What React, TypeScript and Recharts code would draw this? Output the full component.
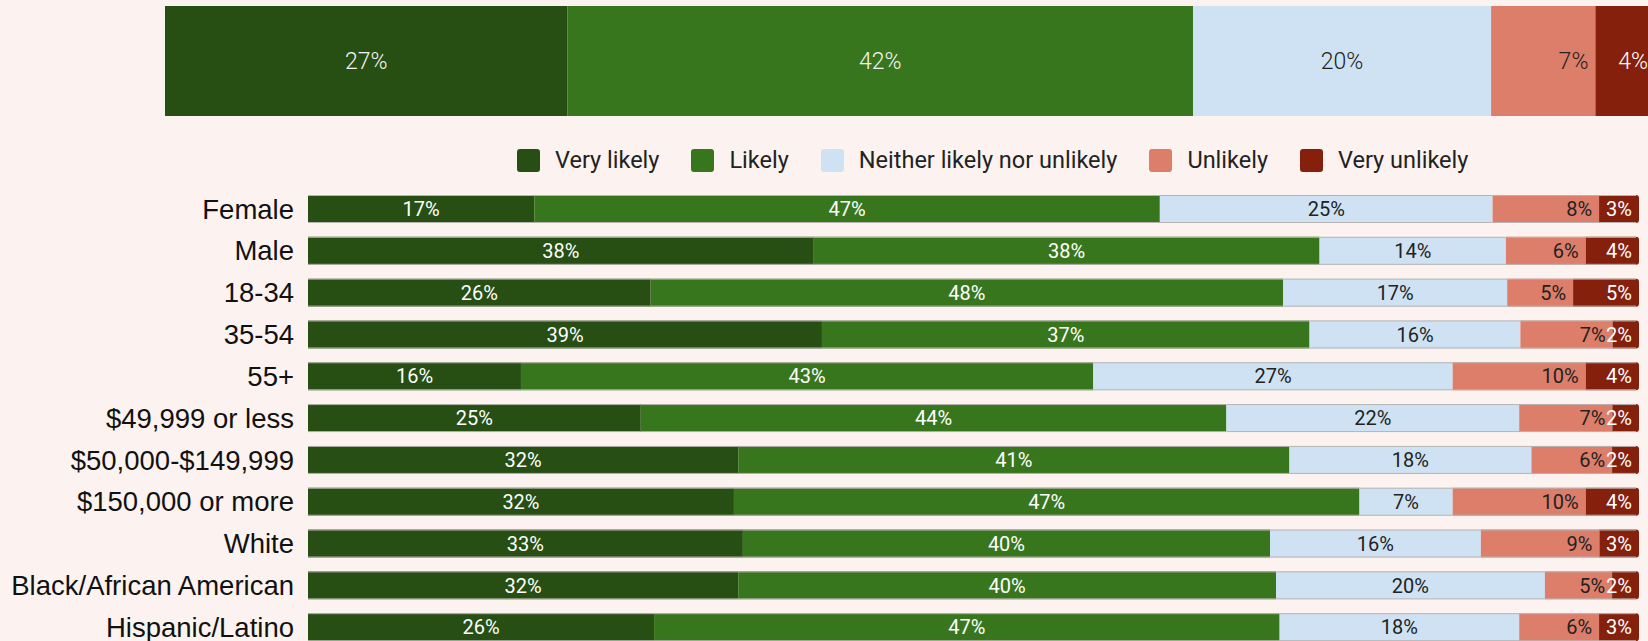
import { BarChart, Bar, XAxis, YAxis, Legend, LabelList, Rectangle } from "recharts";

const BG = "#fcf3f0";

const seriesKeys = ["veryLikely", "likely", "neither", "unlikely", "veryUnlikely"];
const seriesNames = ["Very likely", "Likely", "Neither likely nor unlikely", "Unlikely", "Very unlikely"];
const seriesColors = ["#274e13", "#38761d", "#cfe2f3", "#dd7e6b", "#85200c"];
const labelColors = ["#ffffff", "#ffffff", "#222222", "#222222", "#ffffff"];
const labelAlign = ["center", "center", "center", "right", "right"];

const overallValues = [27, 42, 20, 7, 4];
const overallLabelColors = ["#f4f4f4", "#f4f4f4", "#222222", "#222222", "#ffffff"];

const categories = [
  "Female",
  "Male",
  "18-34",
  "35-54",
  "55+",
  "$49,999 or less",
  "$50,000-$149,999",
  "$150,000 or more",
  "White",
  "Black/African American",
  "Hispanic/Latino",
];
const veryLikely = [17, 38, 26, 39, 16, 25, 32, 32, 33, 32, 26];
const likely = [47, 38, 48, 37, 43, 44, 41, 47, 40, 40, 47];
const neither = [25, 14, 17, 16, 27, 22, 18, 7, 16, 20, 18];
const unlikely = [8, 6, 5, 7, 10, 7, 6, 10, 9, 5, 6];
const veryUnlikely = [3, 4, 5, 2, 4, 2, 2, 4, 3, 2, 3];

const seriesValues = [veryLikely, likely, neither, unlikely, veryUnlikely];

const groupData = categories.map((name, i) => {
  const row: Record<string, string | number> = { name };
  seriesKeys.forEach((key, s) => {
    row[key] = seriesValues[s][i];
  });
  return row;
});

const overallRow: Record<string, string | number> = { name: "Overall" };
seriesKeys.forEach((key, s) => {
  overallRow[key] = overallValues[s];
});
const overallData = [overallRow];

function makeLabel(values: number[], color: string, align: string, fontSize: number, fontWeight: number) {
  return (props: any) => {
    const x = Number(props.x);
    const y = Number(props.y);
    const width = Number(props.width);
    const height = Number(props.height);
    const value = values[props.index];
    if (value == null) return null;
    const tx = align === "center" ? x + width / 2 : x + width - 7;
    return (
      <text
        x={tx}
        y={y + height / 2}
        dy="0.36em"
        textAnchor={align === "center" ? "middle" : "end"}
        fill={color}
        fontSize={fontSize}
        fontWeight={fontWeight}
        fontFamily="Roboto, sans-serif"
      >
        {value}%
      </text>
    );
  };
}

function outlinedShape(rounded: boolean) {
  return (props: any) => {
    const { x, y, width, height, fill } = props;
    return (
      <g>
        <Rectangle
          x={x}
          y={y}
          width={width}
          height={height}
          fill={fill}
          radius={rounded ? [0, 3, 3, 0] : 0}
        />
        <line x1={x} x2={x + width - (rounded ? 3 : 0)} y1={y + 0.5} y2={y + 0.5} stroke="#b9b4b2" strokeWidth={1} />
        <line x1={x} x2={x + width - (rounded ? 3 : 0)} y1={y + height - 0.5} y2={y + height - 0.5} stroke="#b9b4b2" strokeWidth={1} />
      </g>
    );
  };
}

function LegendContent() {
  return (
    <div style={{ display: "flex", alignItems: "center", fontFamily: "Roboto, sans-serif", fontSize: 23.5, color: "#222" }}>
      {seriesNames.map((name, i) => (
        <div key={name} style={{ display: "flex", alignItems: "center", marginRight: i < seriesNames.length - 1 ? 32 : 0 }}>
          <span
            style={{
              display: "inline-block",
              width: 23,
              height: 23,
              background: seriesColors[i],
              borderRadius: 3,
              marginRight: 15,
            }}
          />
          <span style={{ whiteSpace: "nowrap" }}>{name}</span>
        </div>
      ))}
    </div>
  );
}

export default function App() {
  return (
    <div style={{ width: 1648, height: 641, position: "relative", overflow: "hidden", background: BG }}>
      <style>{`body{margin:0;}`}</style>
      <div style={{ position: "absolute", left: 0, top: 0 }}>
        <BarChart
          width={1660}
          height={122}
          data={overallData}
          layout="vertical"
          stackOffset="expand"
          margin={{ top: 6, right: 5, bottom: 6, left: 165 }}
          barCategoryGap={0}
        >
          <XAxis type="number" hide domain={[0, 1]} />
          <YAxis type="category" dataKey="name" hide />
          {seriesKeys.map((key, s) => (
            <Bar key={key} dataKey={key} name={seriesNames[s]} stackId="a" fill={seriesColors[s]} isAnimationActive={false}>
              <LabelList
                dataKey={key}
                content={makeLabel([overallValues[s]], overallLabelColors[s], labelAlign[s], 23, 300)}
              />
            </Bar>
          ))}
        </BarChart>
      </div>
      <div style={{ position: "absolute", left: 0, top: 0 }}>
        <BarChart
          width={1648}
          height={650}
          data={groupData}
          layout="vertical"
          stackOffset="expand"
          margin={{ top: 188, right: 9, bottom: 2, left: 0 }}
          barSize={28}
        >
          <XAxis type="number" hide domain={[0, 1]} />
          <YAxis
            type="category"
            dataKey="name"
            width={308}
            axisLine={false}
            tickLine={false}
            tickSize={0}
            tickMargin={14}
            interval={0}
            tick={{ fill: "#111", fontSize: 27.5, fontFamily: "'Liberation Sans', Arial, sans-serif" }}
          />
          <Legend
            verticalAlign="middle"
            align="center"
            content={LegendContent}
            wrapperStyle={{ position: "absolute", top: 146, left: 517, width: "auto", height: 26 }}
          />
          {seriesKeys.map((key, s) => (
            <Bar
              key={key}
              dataKey={key}
              name={seriesNames[s]}
              stackId="a"
              fill={seriesColors[s]}
              isAnimationActive={false}
              shape={outlinedShape(s === seriesKeys.length - 1)}
            >
              <LabelList
                dataKey={key}
                content={makeLabel(seriesValues[s], labelColors[s], labelAlign[s], 20, 400)}
              />
            </Bar>
          ))}
        </BarChart>
      </div>
    </div>
  );
}
